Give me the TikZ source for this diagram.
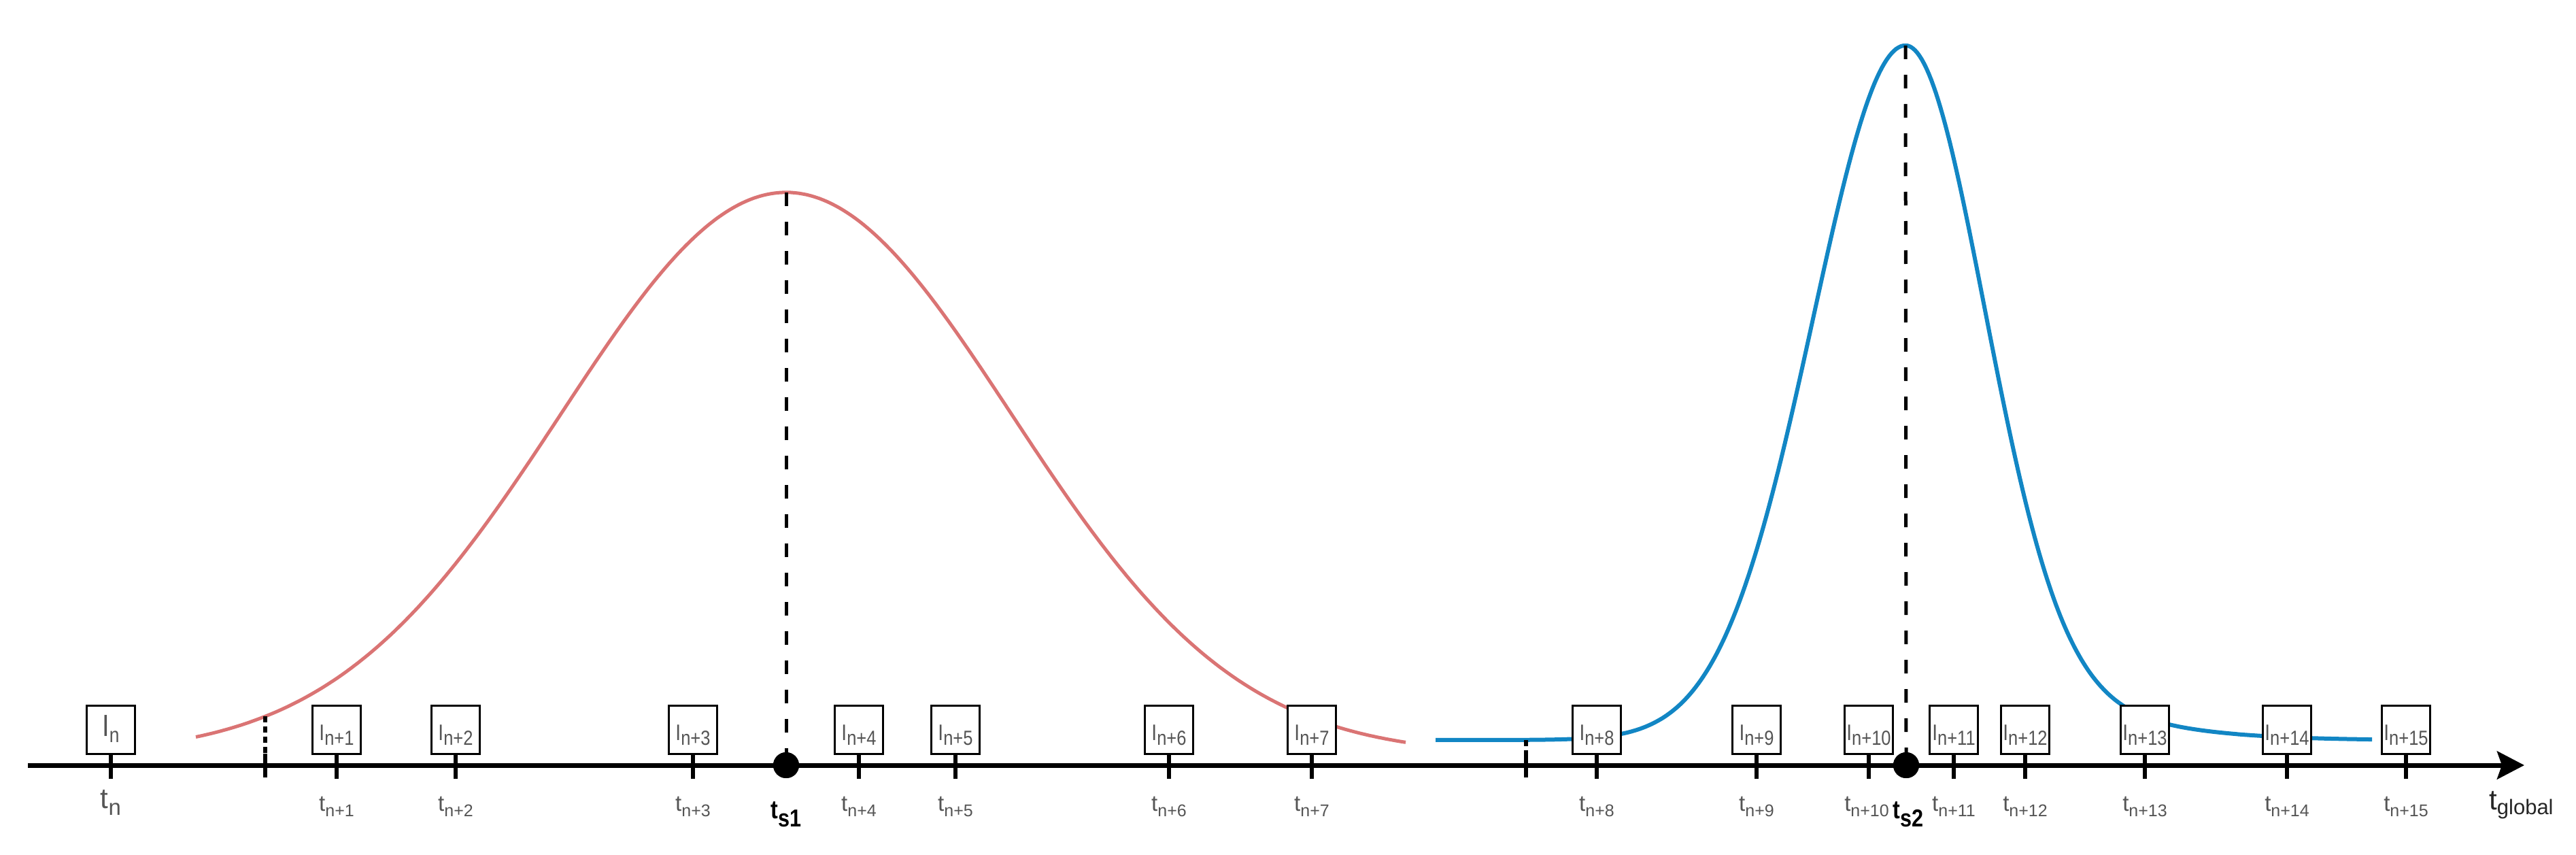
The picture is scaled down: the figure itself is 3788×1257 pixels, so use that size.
\documentclass[tikz,border=0pt]{standalone}
\usepackage{fontspec}
\setmainfont{Liberation Sans}
\newfontfamily\narrowsans[FakeStretch=0.85]{Liberation Sans}
\usetikzlibrary{arrows.meta}
\definecolor{redcurve}{RGB}{218,116,116}
\definecolor{bluecurve}{RGB}{18,134,196}
\definecolor{labgray}{RGB}{85,85,85}
\newcommand{\fs}[1]{\fontsize{#1}{#1}\selectfont}
\newcommand{\Isub}[1]{{\narrowsans\fs{33}I\raisebox{-7pt}{\fs{30}#1}}}
\newcommand{\Tsub}[1]{{\fs{33}t\raisebox{-8pt}{\fs{25}#1}}}
\newcommand{\Ssub}[1]{{\narrowsans\bfseries\fs{38}t\raisebox{-12pt}{\fs{36}#1}}}
\tikzset{
  ibox/.style={draw=black, line width=3pt, fill=white, minimum width=71pt,
    minimum height=71pt, inner sep=0pt, text=labgray, text height=40pt, text depth=9pt},
  tickline/.style={line width=6pt},
  tlab/.style={anchor=base, inner sep=0pt, text=labgray},
  slab/.style={anchor=base, inner sep=0pt, text=black},
  dashline/.style={line width=5pt, dash pattern=on 20pt off 23pt},
  dotline/.style={line width=6pt, dash pattern=on 9pt off 6pt},
  sdot/.style={circle, fill=black, minimum size=38pt, inner sep=0pt},
  redc/.style={draw=redcurve, line width=5pt},
  bluec/.style={draw=bluecurve, line width=6pt}
}
\begin{document}
\begin{tikzpicture}[x=1pt, y=-1pt]
\useasboundingbox (0,0) rectangle (3788,1257);
% curves
\draw[redc, samples=300, domain=288:2067] plot (\x, {1110-827*exp(-0.5*((\x-1156)/331)^2)});
\draw[bluec, samples=200, domain=2111:2802] plot (\x, {1088-1021*exp(-0.5*((\x-2802)/136)^2)})
  -- plot[samples=200, domain=2802:3488] (\x, {1088-1021*(0.92*exp(-0.5*((\x-2802)/115)^2)+0.08*exp(-0.5*((\x-2802)/230)^2))});
% peak coordinates and dots
\coordinate (p1) at (1156,283);
\coordinate (p2) at (2802,67);
\node[sdot] (s1) at (1156,1125) {};
\node[sdot] (s2) at (2803,1125) {};
\draw[dashline] (p1) -- (s1.center);
\draw[dashline] (p2) -- (s2.center);
% axis
\coordinate (ax0) at (41,1125);
\coordinate (ax1) at (3712,1125);
\draw[line width=7pt, -{Stealth[length=40pt, width=41pt, inset=7pt]}] (ax0) -- (ax1);
% dots on top of axis
\node[sdot] (s1b) at (1156,1125) {};
\node[sdot] (s2b) at (2803,1125) {};
% dotted ticks
\coordinate (dr) at (390,1053);
\coordinate (drA) at (390,1108);
\coordinate (drB) at (390,1143);
\draw[dotline] (dr) -- (drA);
\draw[tickline] (drA) -- (drB);
\coordinate (db) at (2244,1088);
\coordinate (dbA) at (2244,1108);
\coordinate (dbB) at (2244,1143);
\draw[dotline] (db) -- (dbA);
\draw[tickline] (dbA) -- (dbB);
% boxes
\node[ibox, text height=36pt, text depth=17pt] (b0) at (163,1072.5) {{\narrowsans\fs{45}I\raisebox{-9pt}{\fs{31}n}}};
\node[ibox] (b1) at (495,1072.5) {\Isub{n+1}};
\node[ibox] (b2) at (670,1072.5) {\Isub{n+2}};
\node[ibox] (b3) at (1019,1072.5) {\Isub{n+3}};
\node[ibox] (b4) at (1263,1072.5) {\Isub{n+4}};
\node[ibox] (b5) at (1405,1072.5) {\Isub{n+5}};
\node[ibox] (b6) at (1719,1072.5) {\Isub{n+6}};
\node[ibox] (b7) at (1929,1072.5) {\Isub{n+7}};
\node[ibox] (b8) at (2348,1072.5) {\Isub{n+8}};
\node[ibox] (b9) at (2583,1072.5) {\Isub{n+9}};
\node[ibox] (b10) at (2748,1072.5) {\Isub{n+10}};
\node[ibox] (b11) at (2873,1072.5) {\Isub{n+11}};
\node[ibox] (b12) at (2978,1072.5) {\Isub{n+12}};
\node[ibox] (b13) at (3154,1072.5) {\Isub{n+13}};
\node[ibox] (b14) at (3363,1072.5) {\Isub{n+14}};
\node[ibox] (b15) at (3538,1072.5) {\Isub{n+15}};
% ticks from boxes
\foreach \b in {b0,b1,b2,b3,b4,b5,b6,b7,b8,b9,b10,b11,b12,b13,b14,b15}
  \draw[tickline] (\b.south) -- ++(0,35);
% tick labels
\node[tlab] (l0) at (163,1188) {{\fs{42}t\raisebox{-10pt}{\fs{33}n}}};
\node[tlab] (l1) at (495,1192) {\Tsub{n+1}};
\node[tlab] (l2) at (670,1192) {\Tsub{n+2}};
\node[tlab] (l3) at (1019,1192) {\Tsub{n+3}};
\node[tlab] (l4) at (1263,1192) {\Tsub{n+4}};
\node[tlab] (l5) at (1405,1192) {\Tsub{n+5}};
\node[tlab] (l6) at (1719,1192) {\Tsub{n+6}};
\node[tlab] (l7) at (1929,1192) {\Tsub{n+7}};
\node[tlab] (l8) at (2348,1192) {\Tsub{n+8}};
\node[tlab] (l9) at (2583,1192) {\Tsub{n+9}};
\node[tlab] (l10) at (2745,1192) {\Tsub{n+10}};
\node[tlab] (l11) at (2873,1192) {\Tsub{n+11}};
\node[tlab] (l12) at (2978,1192) {\Tsub{n+12}};
\node[tlab] (l13) at (3154,1192) {\Tsub{n+13}};
\node[tlab] (l14) at (3363,1192) {\Tsub{n+14}};
\node[tlab] (l15) at (3538,1192) {\Tsub{n+15}};
\node[slab] (ls1) at (1156,1203) {\Ssub{s1}};
\node[slab] (ls2) at (2806,1203) {\Ssub{s2}};
\node[anchor=base west, inner sep=0pt, text=black!85] (tg) at (3660,1190) {\fs{42}t\raisebox{-7pt}{\fs{31}global}};
\end{tikzpicture}
\end{document}
